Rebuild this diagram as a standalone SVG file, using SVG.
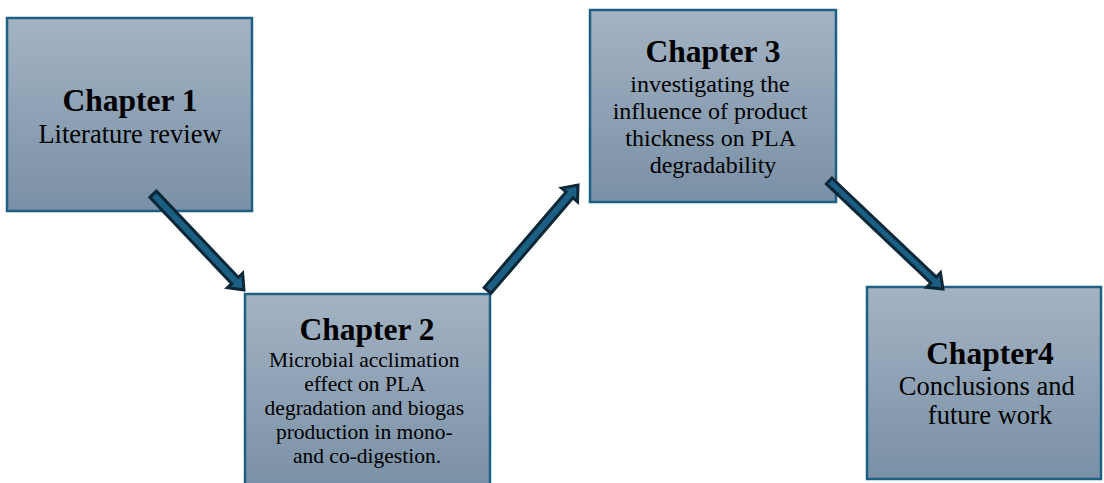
<svg xmlns="http://www.w3.org/2000/svg" width="1104" height="483" viewBox="0 0 1104 483">
  <defs>
    <linearGradient id="boxGrad" x1="0" y1="0" x2="0" y2="1">
      <stop offset="0" stop-color="#a3b3c3"/>
      <stop offset="1" stop-color="#7a90a6"/>
    </linearGradient>
  </defs>
  <style>
    .box { fill: url(#boxGrad); stroke: #1d6083; stroke-width: 2.5; }
    .head { font-family: "Liberation Serif", "Times New Roman", serif; font-weight: bold; font-size: 31.5px; fill: #000; text-anchor: middle; }
    .body { font-family: "Liberation Serif", "Times New Roman", serif; fill: #000; text-anchor: middle; }
    .arrow { fill: #1b5f85; stroke: #0c2736; stroke-width: 3; stroke-linejoin: miter; }
  </style>
  <rect width="1104" height="483" fill="#ffffff"/>

  <g id="chapter1">
    <rect class="box" x="7" y="18" width="245" height="193"/>
    <text class="head" x="130" y="111">Chapter 1</text>
    <text class="body" x="130" y="143" font-size="26.5px">Literature review</text>
  </g>

  <g id="chapter2">
    <rect class="box" x="245" y="294" width="245" height="196"/>
    <text class="head" x="367" y="340">Chapter 2</text>
    <text class="body" font-size="21.5px">
      <tspan x="367" y="367">Microbial acclimation</tspan>
      <tspan x="367" y="391">effect on PLA</tspan>
      <tspan x="367" y="415">degradation and biogas</tspan>
      <tspan x="367" y="439">production in mono-</tspan>
      <tspan x="367" y="463">and co-digestion.</tspan>
    </text>
  </g>

  <g id="chapter3">
    <rect class="box" x="590" y="10" width="246" height="192"/>
    <text class="head" x="713" y="62">Chapter 3</text>
    <text class="body" font-size="24px">
      <tspan x="713" y="92">investigating the</tspan>
      <tspan x="713" y="119">influence of product</tspan>
      <tspan x="713" y="146">thickness on PLA</tspan>
      <tspan x="713" y="173">degradability</tspan>
    </text>
  </g>

  <g id="chapter4">
    <rect class="box" x="867" y="287" width="234" height="192"/>
    <text class="head" x="990" y="364">Chapter4</text>
    <text class="body" font-size="26.5px">
      <tspan x="990" y="395">Conclusions and</tspan>
      <tspan x="990" y="424">future work</tspan>
    </text>
  </g>

  <g id="connectors">
    <path class="arrow" transform="translate(244,290) rotate(46.5)" d="M -132 -4.5 L -13 -4.5 L -13 -10.5 L 0 0 L -13 10.5 L -13 4.5 L -132 4.5 Z"/>
    <path class="arrow" transform="translate(578,185) rotate(-49.4)" d="M -139 -4.5 L -13 -4.5 L -13 -10.5 L 0 0 L -13 10.5 L -13 4.5 L -139 4.5 Z"/>
    <path class="arrow" transform="translate(943,289) rotate(43.5)" d="M -157 -4 L -13 -4 L -13 -10 L 0 0 L -13 10 L -13 4 L -157 4 Z"/>
  </g>
</svg>
